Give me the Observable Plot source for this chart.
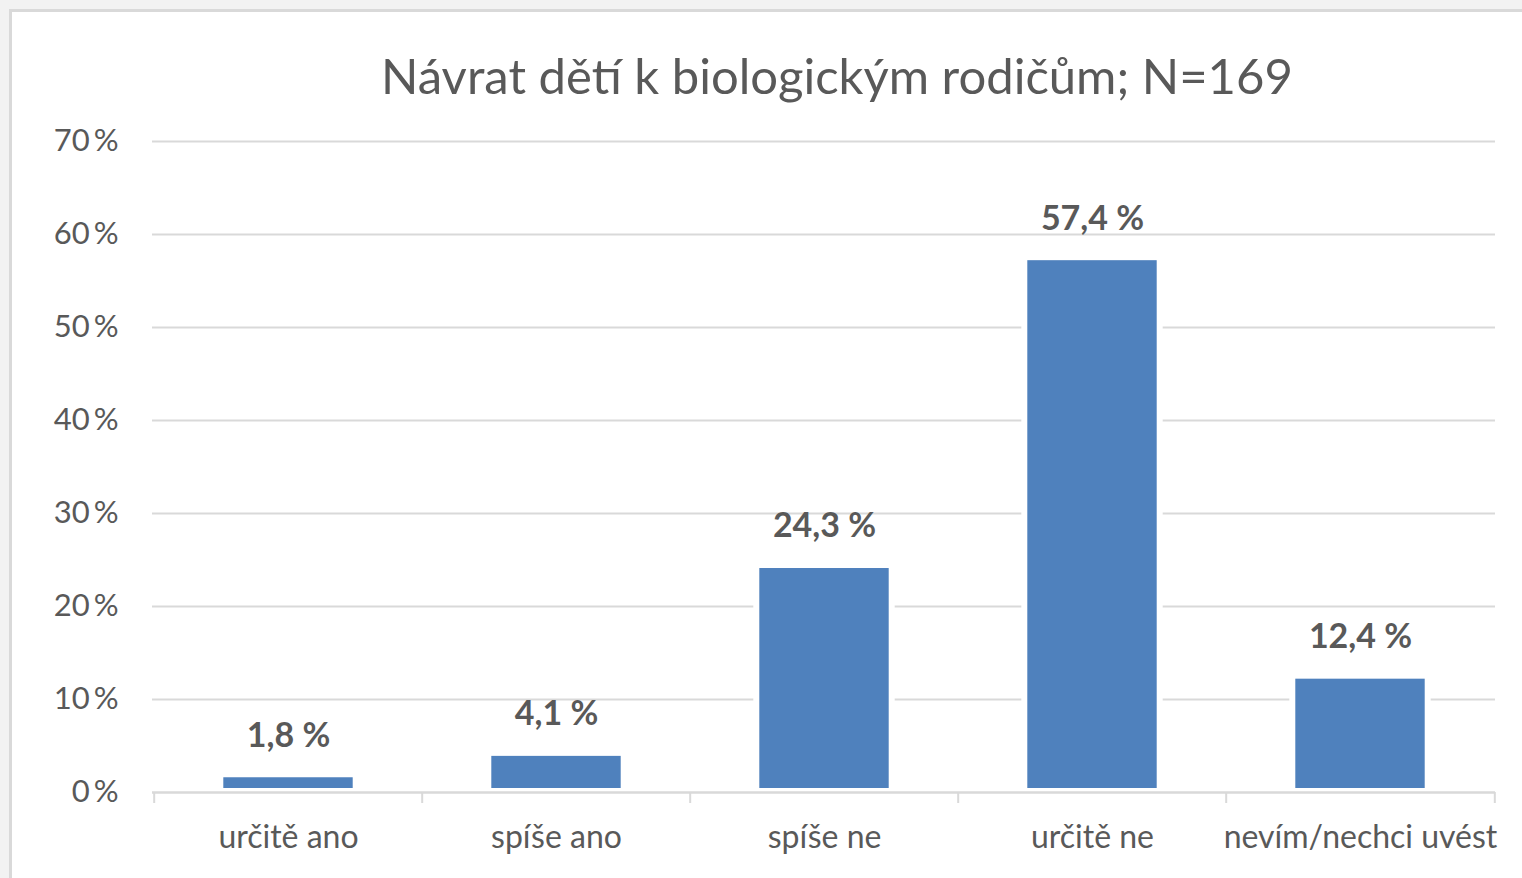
<!DOCTYPE html>
<html><head><meta charset="utf-8">
<script src="https://cdn.jsdelivr.net/npm/d3@7"></script>
<script src="https://cdn.jsdelivr.net/npm/@observablehq/plot@0.6"></script>
<style>
html,body{margin:0;padding:0;background:#f2f2f2;width:1522px;height:878px;overflow:hidden;font-family:Lato,sans-serif;}
#frame{position:absolute;left:9px;top:9px;width:1600px;height:1000px;background:#fff;border:3px solid #d9d9d9;box-sizing:border-box;}
#title{position:absolute;left:152px;width:1370px;top:46px;line-height:58px;font-size:49px;color:#595959;text-align:center;white-space:nowrap;}
#chart{position:absolute;left:0;top:120px;}
</style></head>
<body>
<div id="frame"></div>
<div id="title">Návrat dětí k biologickým rodičům; N=169</div>
<div id="chart"></div>
<script>
const categories = ["určitě ano", "spíše ano", "spíše ne", "určitě ne", "nevím/nechci uvést"];
const values = [1.8, 4.1, 24.3, 57.4, 12.4];
const valueLabels = ["1,8 %", "4,1 %", "24,3 %", "57,4 %", "12,4 %"];
const yTicks = [0, 10, 20, 30, 40, 50, 60, 70];

const data = categories.map((c, i) => ({cat: c, v: values[i], label: valueLabels[i]}));

const W = 1522, H = 758, ML = 152, MR = 27, MT = 21, MB = 86;
const bw = (W - ML - MR) / categories.length;
const barW = 130;
const inset = (bw - barW) / 2;
const grid = "#d9d9d9", txt = "#595959";

const plot = Plot.plot({
  width: W, height: H,
  marginLeft: ML, marginRight: MR, marginTop: MT, marginBottom: MB,
  style: {background: "transparent", fontFamily: "Lato, sans-serif", color: txt},
  x: {domain: categories, padding: 0, label: null},
  y: {domain: [0, 70], label: null},
  marks: [
    Plot.ruleY(yTicks.filter(d => d > 0), {stroke: grid, strokeWidth: 2.2}),
    Plot.barY(data, {x: "cat", y: "v", fill: "white", insetLeft: inset - 6, insetRight: inset - 6}),
    Plot.barY(data, {x: "cat", y: "v", fill: "#4F81BD", insetLeft: inset, insetRight: inset, insetTop: 2, insetBottom: 4}),
    Plot.ruleY([0], {stroke: grid, strokeWidth: 2.6}),
    Plot.axisX({ticks: categories, tickSize: 11, text: null, stroke: grid, strokeWidth: 2, dx: -bw / 2}),
    Plot.axisX({ticks: [categories[categories.length - 1]], tickSize: 11, text: null, stroke: grid, strokeWidth: 2, dx: bw / 2}),
    Plot.axisX({tickSize: 0, tickPadding: 33, fontSize: 32, fill: txt, label: null}),
    Plot.axisY({ticks: yTicks, tickSize: 0, tickPadding: 34, fontSize: 31, fill: txt, label: null,
      tickFormat: d => d + "\u2009%"}),
    Plot.text(data, {x: "cat", y: "v", text: "label", dy: -40, fontSize: 34, fontWeight: "bold", fill: txt, lineAnchor: "middle"})
  ]
});
document.getElementById("chart").appendChild(plot);
</script>
</body></html>
